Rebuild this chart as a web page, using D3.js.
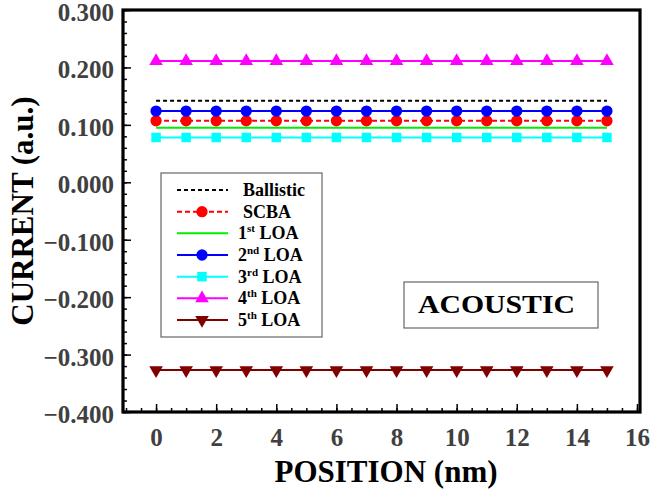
<!DOCTYPE html>
<html>
<head>
<meta charset="utf-8">
<script src="https://cdn.jsdelivr.net/npm/d3@7"></script>
<style>
  html, body { margin: 0; padding: 0; background: #fff; }
  svg { display: block; }
</style>
</head>
<body>
<svg id="chart" width="650" height="491"></svg>
<script>
// Positions along the device (nm)
const positions = [0, 1, 2, 3, 4, 5, 6, 7, 8, 9, 10, 11, 12, 13, 14, 15];

// Current per approximation (constant along the device)
const ballistic = [0.142, 0.142, 0.142, 0.142, 0.142, 0.142, 0.142, 0.142, 0.142, 0.142, 0.142, 0.142, 0.142, 0.142, 0.142, 0.142];
const scba      = [0.107, 0.107, 0.107, 0.107, 0.107, 0.107, 0.107, 0.107, 0.107, 0.107, 0.107, 0.107, 0.107, 0.107, 0.107, 0.107];
const loa1      = [0.095, 0.095, 0.095, 0.095, 0.095, 0.095, 0.095, 0.095, 0.095, 0.095, 0.095, 0.095, 0.095, 0.095, 0.095, 0.095];
const loa2      = [0.124, 0.124, 0.124, 0.124, 0.124, 0.124, 0.124, 0.124, 0.124, 0.124, 0.124, 0.124, 0.124, 0.124, 0.124, 0.124];
const loa3      = [0.078, 0.078, 0.078, 0.078, 0.078, 0.078, 0.078, 0.078, 0.078, 0.078, 0.078, 0.078, 0.078, 0.078, 0.078, 0.078];
const loa4      = [0.211, 0.211, 0.211, 0.211, 0.211, 0.211, 0.211, 0.211, 0.211, 0.211, 0.211, 0.211, 0.211, 0.211, 0.211, 0.211];
const loa5      = [-0.327, -0.327, -0.327, -0.327, -0.327, -0.327, -0.327, -0.327, -0.327, -0.327, -0.327, -0.327, -0.327, -0.327, -0.327, -0.327];

// Tick values
const xTicks = [0, 2, 4, 6, 8, 10, 12, 14, 16];
const yTicks = [-0.4, -0.3, -0.2, -0.1, 0.0, 0.1, 0.2, 0.3];

// Series: label pieces [main, superscript, rest]
const series = [
  { name: ["", "", "Ballistic"], values: ballistic, color: "#000000", dash: "4,3", marker: null },
  { name: ["", "", "SCBA"],      values: scba,      color: "#ff0000", dash: "5,3", marker: "circle" },
  { name: ["1", "st", " LOA"],   values: loa1,      color: "#00ee00", dash: null,  marker: null },
  { name: ["2", "nd", " LOA"],   values: loa2,      color: "#0000ff", dash: null,  marker: "circle" },
  { name: ["3", "rd", " LOA"],   values: loa3,      color: "#00ffff", dash: null,  marker: "square" },
  { name: ["4", "th", " LOA"],   values: loa4,      color: "#ff00ff", dash: null,  marker: "triangle" },
  { name: ["5", "th", " LOA"],   values: loa5,      color: "#800000", dash: null,  marker: "triangleDown" }
];

const SERIF = '"Liberation Serif", "Times New Roman", Times, "DejaVu Serif", serif';

const svg = d3.select("#chart");
const L = 123, R = 640, T = 10, B = 412;

const x = d3.scaleLinear().domain([-1.1, 16.1]).range([L, R]);
const y = d3.scaleLinear().domain([-0.4, 0.3]).range([B, T]);

const markerSymbol = {
  circle: d3.symbol().type(d3.symbolCircle).size(100),
  square: d3.symbol().type(d3.symbolSquare).size(90),
  triangle: d3.symbol().type(d3.symbolTriangle).size(80),
  triangleDown: d3.symbol().type(d3.symbolTriangle).size(80)
};

// Axes: ticks point inward
const yMinor = d3.range(-0.4, 0.3001, 0.02);
svg.append("g").attr("transform", `translate(${L},0)`)
  .call(d3.axisLeft(y).tickValues(yMinor).tickSize(-4).tickFormat(""))
  .call(g => g.select(".domain").remove())
  .call(g => g.selectAll("line").attr("stroke", "#000").attr("stroke-width", 1.5));

svg.append("g").attr("transform", `translate(${L},0)`)
  .call(d3.axisLeft(y).tickValues(yTicks).tickSize(-8).tickPadding(9).tickFormat(d3.format(".3f")))
  .call(g => g.select(".domain").remove())
  .call(g => g.selectAll("line").attr("stroke", "#000").attr("stroke-width", 1.5))
  .call(g => g.selectAll("text").attr("fill", "#404040").attr("font-size", 25).attr("dy", "0.42em"));

const xMinor = d3.range(-1, 16.01, 0.5);
svg.append("g").attr("transform", `translate(0,${B})`)
  .call(d3.axisBottom(x).tickValues(xMinor).tickSize(-4).tickFormat(""))
  .call(g => g.select(".domain").remove())
  .call(g => g.selectAll("line").attr("stroke", "#000").attr("stroke-width", 1.5));

svg.append("g").attr("transform", `translate(0,${B})`)
  .call(d3.axisBottom(x).tickValues(xTicks).tickSize(-8).tickPadding(16).tickFormat(d3.format("d")))
  .call(g => g.select(".domain").remove())
  .call(g => g.selectAll("line").attr("stroke", "#000").attr("stroke-width", 1.5))
  .call(g => g.selectAll("text").attr("fill", "#404040").attr("font-size", 25));

// Plot frame
svg.append("rect")
  .attr("x", L).attr("y", T).attr("width", R - L).attr("height", B - T)
  .attr("fill", "none").attr("stroke", "#000").attr("stroke-width", 3.2);

// Series lines and markers
const line = d3.line().x((d, i) => x(positions[i])).y(d => y(d));
series.forEach(s => {
  svg.append("path")
    .datum(s.values)
    .attr("d", line)
    .attr("fill", "none")
    .attr("stroke", s.color)
    .attr("stroke-width", 2)
    .attr("stroke-dasharray", s.dash);
  if (s.marker) {
    svg.append("g").selectAll("path")
      .data(s.values)
      .join("path")
      .attr("d", markerSymbol[s.marker])
      .attr("transform", (d, i) => `translate(${x(positions[i])},${y(d)})${s.marker === "triangleDown" ? " rotate(180)" : ""}`)
      .attr("fill", s.color);
  }
});

// Legend
const legend = svg.append("g");
legend.append("rect")
  .attr("x", 161).attr("y", 173).attr("width", 161).attr("height", 164)
  .attr("fill", "#fff").attr("stroke", "#666").attr("stroke-width", 1.2);
const rowY = d3.scaleLinear().domain([0, 6]).range([190, 320]);
series.forEach((s, i) => {
  const yy = rowY(i);
  legend.append("line")
    .attr("x1", 177).attr("x2", 228).attr("y1", yy).attr("y2", yy)
    .attr("stroke", s.color).attr("stroke-width", 2)
    .attr("stroke-dasharray", s.dash);
  if (s.marker) {
    legend.append("path")
      .attr("d", markerSymbol[s.marker])
      .attr("transform", `translate(202,${yy})${s.marker === "triangleDown" ? " rotate(180)" : ""}`)
      .attr("fill", s.color);
  }
  const t = legend.append("text")
    .attr("x", s.name[0] ? 238 : 243).attr("y", yy + 6)
    .attr("font-size", 18).attr("fill", "#000");
  if (s.name[0]) {
    t.append("tspan").text(s.name[0]);
    t.append("tspan").attr("dy", -7).attr("font-size", 11).text(s.name[1]);
    t.append("tspan").attr("dy", 7).text(s.name[2]);
  } else {
    t.text(s.name[2]);
  }
});

// Annotation box
svg.append("rect")
  .attr("x", 404).attr("y", 282).attr("width", 194).attr("height", 46)
  .attr("fill", "#fff").attr("stroke", "#666").attr("stroke-width", 1.2);
svg.append("text")
  .attr("x", 418).attr("y", 313)
  .attr("font-size", 26)
  .attr("textLength", 157).attr("lengthAdjust", "spacingAndGlyphs")
  .attr("fill", "#000")
  .text("ACOUSTIC");

// Axis titles
svg.append("text")
  .attr("x", 386).attr("y", 482)
  .attr("text-anchor", "middle")
  .attr("font-size", 31).attr("fill", "#000")
  .text("POSITION (nm)");

svg.append("text")
  .attr("transform", "translate(33,211) rotate(-90)")
  .attr("text-anchor", "middle")
  .attr("font-size", 31).attr("fill", "#000")
  .text("CURRENT (a.u.)");

// Bold serif type for every label
svg.selectAll("text")
  .style("font-family", SERIF)
  .style("font-weight", "bold");
</script>
</body>
</html>
